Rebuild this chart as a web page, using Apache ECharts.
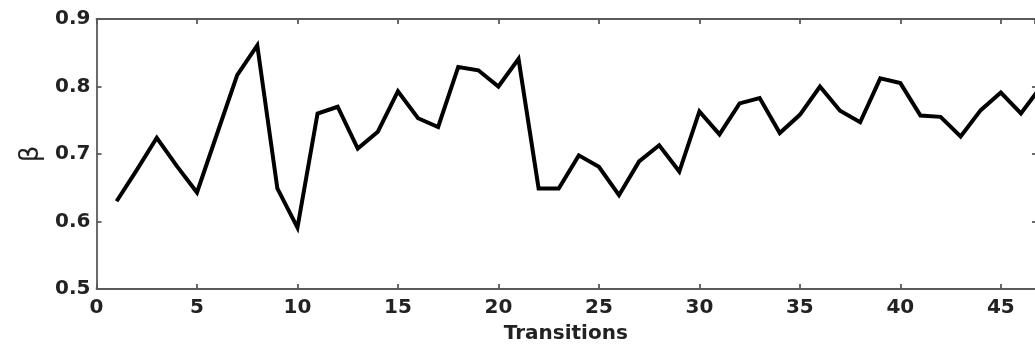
<!DOCTYPE html>
<html>
<head>
<meta charset="utf-8">
<script src="https://cdn.jsdelivr.net/npm/echarts@6/dist/echarts.min.js"></script>
<style>
html,body{margin:0;padding:0;background:#fff;}
#chart{width:1035px;height:349px;}
</style>
</head>
<body>
<div id="chart"></div>
<script>
const transitions = [1,2,3,4,5,6,7,8,9,10,11,12,13,14,15,16,17,18,19,20,21,22,23,24,25,26,27,28,29,30,31,32,33,34,35,36,37,38,39,40,41,42,43,44,45,46,47];
const beta = [0.630,0.676,0.724,0.682,0.643,0.730,0.817,0.861,0.649,0.591,0.760,0.770,0.708,0.733,0.793,0.753,0.740,0.829,0.824,0.800,0.841,0.649,0.649,0.698,0.681,0.639,0.689,0.713,0.674,0.763,0.729,0.775,0.783,0.731,0.758,0.800,0.764,0.747,0.812,0.805,0.757,0.755,0.726,0.765,0.791,0.760,0.800];
const xTickStep = 5;
const yTickStep = 0.1;
const xMax = 46.7;

const labelFont = {fontFamily: '"DejaVu Sans", sans-serif', fontWeight: 'bold', fontSize: 20, color: '#222'};
const axisLineStyle = {color: '#5a5a5a', width: 1.8};

const chart = echarts.init(document.getElementById('chart'), null, {renderer: 'canvas'});
chart.setOption({
  animation: false,
  backgroundColor: '#fff',
  grid: {left: 96.5, right: 0, top: 19, bottom: 60, show: false},
  xAxis: [{
    type: 'value', min: 0, max: xMax, interval: xTickStep,
    name: 'Transitions', nameLocation: 'middle', nameGap: 35,
    nameTextStyle: labelFont,
    axisLine: {show: true, onZero: false, lineStyle: axisLineStyle},
    axisTick: {show: true, inside: true, length: 5, lineStyle: axisLineStyle},
    axisLabel: Object.assign({margin: 9, showMaxLabel: false}, labelFont),
    splitLine: {show: false}
  }, {
    type: 'value', min: 0, max: xMax, interval: xTickStep, position: 'top',
    axisLine: {show: true, onZero: false, lineStyle: axisLineStyle},
    axisTick: {show: true, inside: true, length: 5, lineStyle: axisLineStyle},
    axisLabel: {show: false},
    splitLine: {show: false}
  }],
  yAxis: [{
    type: 'value', min: 0.5, max: 0.9, interval: yTickStep,
    name: 'β', nameLocation: 'middle', nameGap: 50, nameRotate: 90,
    nameTextStyle: {fontFamily: '"DejaVu Sans", sans-serif', fontSize: 26, color: '#222'},
    axisLine: {show: true, onZero: false, lineStyle: axisLineStyle},
    axisTick: {show: true, inside: true, length: 5, lineStyle: axisLineStyle},
    axisLabel: Object.assign({margin: 6, formatter: v => v.toFixed(1)}, labelFont),
    splitLine: {show: false}
  }, {
    type: 'value', min: 0.5, max: 0.9, interval: yTickStep, position: 'right',
    axisLine: {show: false, onZero: false},
    axisTick: {show: true, inside: true, length: 3, lineStyle: axisLineStyle},
    axisLabel: {show: false},
    splitLine: {show: false}
  }],
  series: [{
    type: 'line',
    data: transitions.map((t, i) => [t, beta[i]]),
    showSymbol: false,
    symbol: 'none',
    lineStyle: {color: '#000', width: 4, join: 'miter'},
    clip: true
  }]
});
</script>
</body>
</html>
